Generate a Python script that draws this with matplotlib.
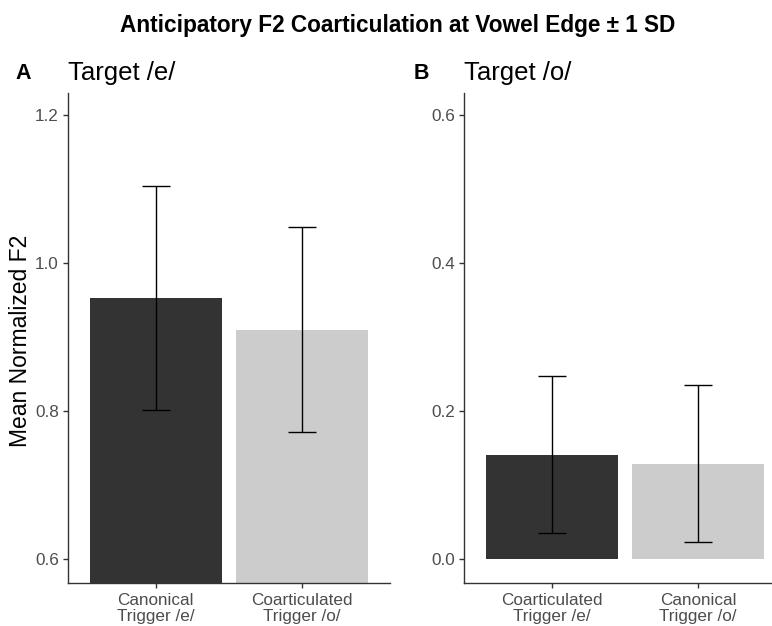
import matplotlib
matplotlib.use("Agg")
import matplotlib.pyplot as plt

plt.rcParams['font.family'] = ['Liberation Sans', 'DejaVu Sans']

# panel A: target /e/
labels_a = ["Canonical\nTrigger /e/", "Coarticulated\nTrigger /o/"]
means_a = [0.953, 0.910]
sd_a = [0.151, 0.139]

# panel B: target /o/
labels_b = ["Coarticulated\nTrigger /e/", "Canonical\nTrigger /o/"]
means_b = [0.141, 0.129]
sd_b = [0.106, 0.106]

colors = ["#333333", "#CCCCCC"]
W, H = 772, 626

fig = plt.figure(figsize=(W / 100, H / 100), dpi=100)


def px_axes(l, t, r, b):
    return fig.add_axes([l / W, 1 - b / H, (r - l) / W, (b - t) / H])


def px_text(x, y, s, **kw):
    return fig.text(x / W, 1 - y / H, s, **kw)


def panel(ax, labels, means, sds, ylim, ticks):
    x = [1, 2]
    ax.bar(x, means, width=0.9, color=colors)
    ax.errorbar(x, means, yerr=sds, fmt="none", ecolor="black",
                elinewidth=1.0, capsize=10.4, capthick=1.0)
    ax.set_xlim(0.4, 2.6)
    ax.set_ylim(*ylim)
    ax.set_yticks(ticks)
    ax.set_yticklabels(["%.1f" % t for t in ticks])
    ax.set_xticks(x)
    ax.set_xticklabels(labels, linespacing=1.05)
    for s in ["top", "right"]:
        ax.spines[s].set_visible(False)
    for s in ["left", "bottom"]:
        ax.spines[s].set_linewidth(1.0)
        ax.spines[s].set_color("#333333")
    ax.tick_params(labelsize=12.3, labelcolor="#4D4D4D", color="#333333",
                   length=3.5, width=1.0, pad=3)
    ax.tick_params(axis="x", pad=4)


ax1 = px_axes(68, 93, 390, 583)
panel(ax1, labels_a, means_a, sd_a, (0.5676, 1.2297), [0.6, 0.8, 1.0, 1.2])

ax2 = px_axes(464, 93, 786, 583)
panel(ax2, labels_b, means_b, sd_b, (-0.0324, 0.6297), [0.0, 0.2, 0.4, 0.6])

px_text(21, 341, "Mean Normalized F2", fontsize=16.5, rotation=90,
        ha="center", va="center")

px_text(68, 80, "Target /e/", fontsize=18.5, ha="left", va="baseline")
px_text(464, 80, "Target /o/", fontsize=18.5, ha="left", va="baseline")
px_text(15, 79, "A", fontsize=15.5, fontweight="bold", ha="left",
        va="baseline")
px_text(414, 79, "B", fontsize=15.5, fontweight="bold", ha="left",
        va="baseline")

px_text(397.5, 32, "Anticipatory F2 Coarticulation at Vowel Edge \u00b1 1 SD",
        fontsize=16.3, fontweight="bold", ha="center", va="baseline")

fig.savefig("out.png", dpi=100)
